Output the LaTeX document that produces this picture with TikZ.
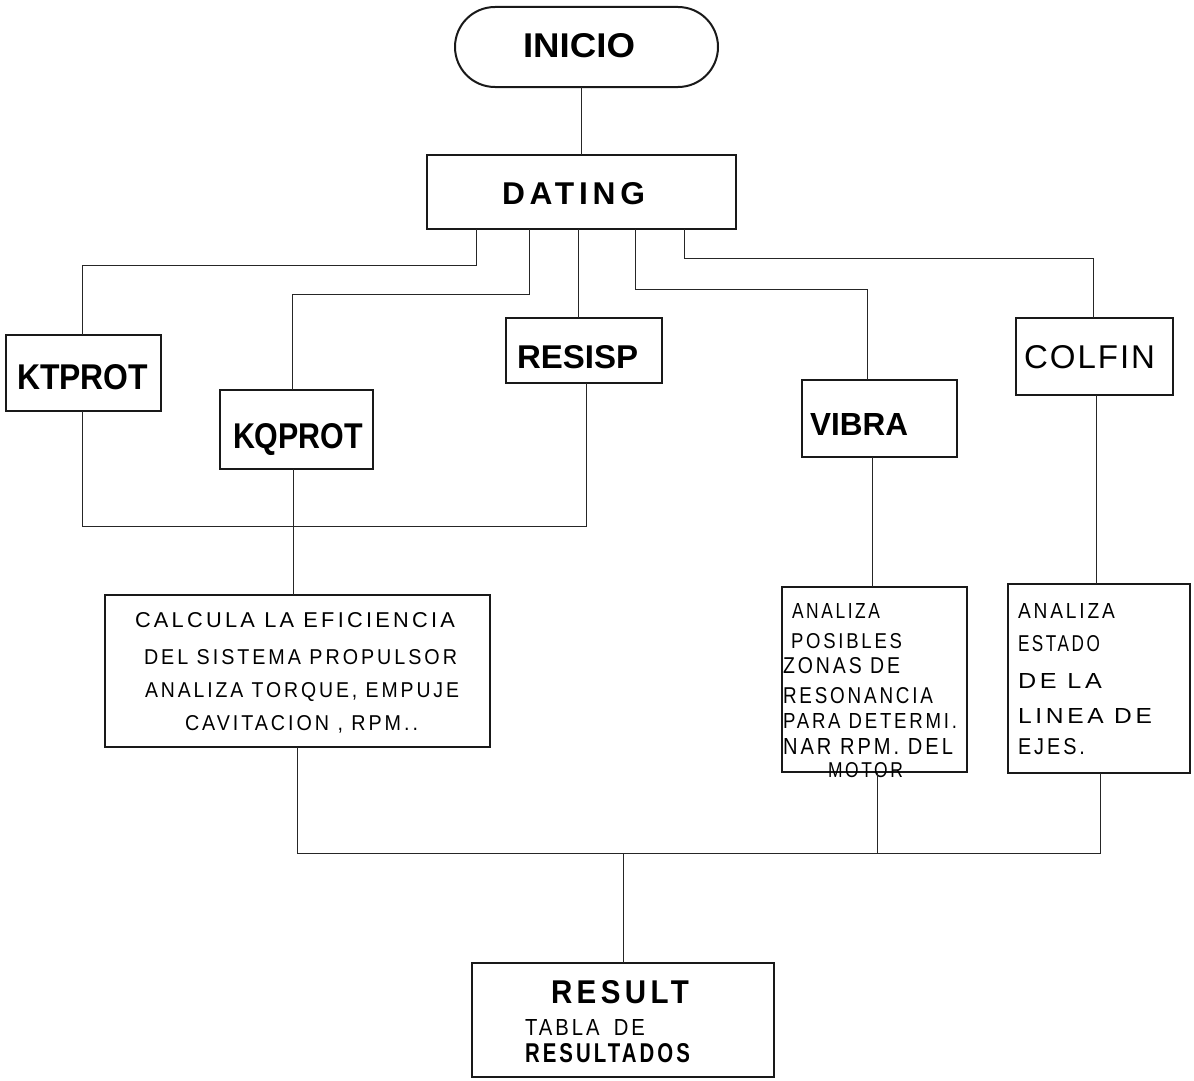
\documentclass[tikz,border=0pt]{standalone}
\usepackage{fontspec}
\usepackage{graphicx}
\setmainfont{Liberation Sans}
\newfontfamily\lsA[LetterSpace=6]{Liberation Sans}
\newfontfamily\lsB[LetterSpace=15]{Liberation Sans}
% one text line: dx, gap above, width, cap height, font, text
\newcommand\Ln[6]{\vspace*{#2pt}\leavevmode\hspace*{#1pt}\raisebox{0pt}[#4pt][0pt]{\resizebox{#3pt}{#4pt}{#5#6}}\par}
% fixed size box: width, height, lines
\newcommand\Bx[3]{\parbox[c][#2pt][t]{#1pt}{\baselineskip=0pt\lineskip=0pt\lineskiplimit=0pt\relax#3}}
\begin{document}
\begin{tikzpicture}[x=1pt,y=-1pt,
  boxst/.style={draw=black!90, line width=2pt, inner sep=0pt, outer sep=0pt, anchor=north west, rectangle},
  conn/.style={draw=black!85, line width=1pt}]
\fill[white] (0,0) rectangle (1194,1081);
\useasboundingbox (0,0) rectangle (1194,1081);

% nodes
\node[boxst, rounded corners=40pt] (inicio) at (455,7)
  {\Bx{263}{80}{\Ln{68}{26}{112}{24}{\rmfamily\bfseries}{INICIO}}};
\node[boxst] (dating) at (427,155)
  {\Bx{309}{74}{\Ln{75}{27}{143}{22}{\lsB\bfseries}{DATING}}};
\node[boxst] (kt) at (6,335)
  {\Bx{155}{76}{\Ln{11}{29}{131}{25}{\rmfamily\bfseries}{KTPROT}}};
\node[boxst] (kq) at (220,390)
  {\Bx{153}{79}{\Ln{13}{33}{130}{25}{\rmfamily\bfseries}{KQPROT}}};
\node[boxst] (rs) at (506,318)
  {\Bx{156}{65}{\Ln{11}{27}{121}{23}{\rmfamily\bfseries}{RESISP}}};
\node[boxst] (vb) at (802,380)
  {\Bx{155}{77}{\Ln{8}{33}{98}{22}{\rmfamily\bfseries}{VIBRA}}};
\node[boxst] (cf) at (1016,318)
  {\Bx{157}{77}{\Ln{8}{27}{131}{23}{\lsA}{COLFIN}}};
\node[boxst] (calc) at (105,595)
  {\Bx{385}{152}{%
    \Ln{30}{17}{320}{15}{\lsB}{CALCULA LA EFICIENCIA}%
    \Ln{39}{22}{313}{15}{\lsB}{DEL SISTEMA PROPULSOR}%
    \Ln{40}{18}{314}{15}{\lsB}{ANALIZA TORQUE, EMPUJE}%
    \Ln{80}{18}{233}{15}{\lsB}{CAVITACION , RPM..}}};
\node[boxst] (an1) at (782,587)
  {\Bx{185}{185}{%
    \Ln{10}{16}{88}{15}{\lsB}{ANALIZA}%
    \Ln{9}{15}{111}{15}{\lsB}{POSIBLES}%
    \Ln{1}{9}{117}{16}{\lsB}{ZONAS DE}%
    \Ln{1}{14}{150}{16}{\lsB}{RESONANCIA}%
    \Ln{1}{10}{174}{15}{\lsB}{PARA DETERMI.}%
    \Ln{1}{10}{170}{16}{\lsB}{NAR RPM. DEL}%
    \Ln{46}{8}{75}{15}{\lsB}{MOTOR}}};
\node[boxst] (an2) at (1008,584)
  {\Bx{182}{189}{%
    \Ln{10}{19}{97}{15}{\lsB}{ANALIZA}%
    \Ln{10}{17}{82}{16}{\lsB}{ESTADO}%
    \Ln{10}{22}{84}{15}{\lsB}{DE LA}%
    \Ln{10}{20}{134}{15}{\lsB}{LINEA DE}%
    \Ln{10}{15}{67}{16}{\lsB}{EJES.}}};
\node[boxst] (res) at (472,963)
  {\Bx{302}{114}{%
    \Ln{79}{17}{138}{23}{\lsB\bfseries}{RESULT}%
    \Ln{53}{16}{120}{16}{\lsB}{TABLA\hspace{0.7em}DE}%
    \Ln{53}{8}{165}{19}{\lsB\bfseries}{RESULTADOS}}};

% connectors
\draw[conn] ([xshift=-5.5pt]inicio.south) -- ([xshift=-5.5pt]inicio.south |- dating.north);
\draw[conn] ([xshift=-105.5pt]dating.south) -- ++(0,36) -| ([xshift=-1.5pt]kt.north);
\draw[conn] ([xshift=-52.5pt]dating.south) -- ++(0,65) -| ([xshift=-4.5pt]kq.north);
\draw[conn] ([xshift=-6pt]rs.north) -- ([xshift=-6pt]rs.north |- dating.south);
\draw[conn] ([xshift=53.5pt]dating.south) -- ++(0,60) -| ([xshift=-12.5pt]vb.north);
\draw[conn] ([xshift=102.5pt]dating.south) -- ++(0,29) -| ([xshift=-1.5pt]cf.north);

\draw[conn] ([xshift=-1.5pt]kt.south) -- ++(0,115) -| ([xshift=2pt]rs.south);
\draw[conn] ([xshift=-3.5pt]kq.south) -- ([xshift=-3.5pt]kq.south |- calc.north);
\draw[conn] ([xshift=-7.5pt]vb.south) -- ([xshift=-7.5pt]vb.south |- an1.north);
\draw[conn] ([xshift=1.5pt]cf.south) -- ([xshift=1.5pt]cf.south |- an2.north);

\draw[conn] ([xshift=-0.5pt]calc.south) -- ++(0,106) coordinate (bl) -| ([xshift=1pt]an2.south);
\draw[conn] ([xshift=2.5pt]an1.south) -- ([xshift=2.5pt]an1.south |- bl);
\draw[conn] (res.north) -- (res.north |- bl);
\end{tikzpicture}
\end{document}
